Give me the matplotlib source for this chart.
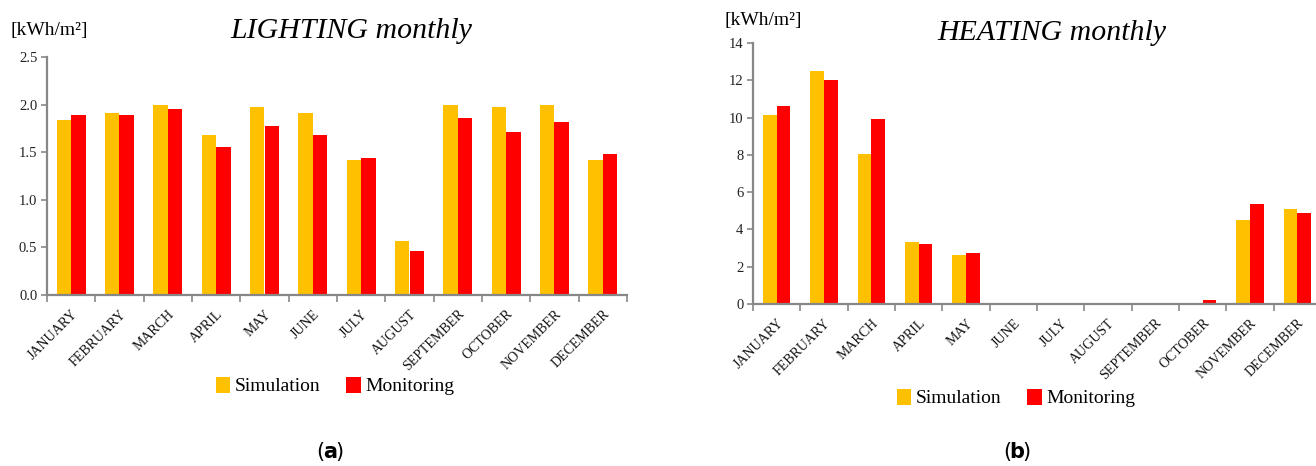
import matplotlib
matplotlib.use("Agg")
import matplotlib.pyplot as plt
import numpy as np
from matplotlib.patches import Patch

months = ["JANUARY", "FEBRUARY", "MARCH", "APRIL", "MAY", "JUNE", "JULY",
          "AUGUST", "SEPTEMBER", "OCTOBER", "NOVEMBER", "DECEMBER"]
lighting_sim = [1.84, 1.91, 2.00, 1.68, 1.98, 1.91, 1.42, 0.57, 2.00, 1.98, 2.00, 1.42]
lighting_mon = [1.89, 1.89, 1.95, 1.55, 1.77, 1.68, 1.44, 0.46, 1.86, 1.71, 1.82, 1.48]
heating_sim = [10.12, 12.50, 8.05, 3.31, 2.63, 0, 0, 0, 0, 0, 4.50, 5.10]
heating_mon = [10.62, 12.02, 9.94, 3.22, 2.72, 0, 0, 0, 0, 0.23, 5.38, 4.88]
lighting_yticks = [0.0, 0.5, 1.0, 1.5, 2.0, 2.5]
heating_yticks = [0, 2, 4, 6, 8, 10, 12, 14]
series_names = ["Simulation", "Monitoring"]

C_SIM = "#FFC000"
C_MON = "#FF0000"
GRAY = "#878787"
SERIF = "Liberation Serif"

W, H = 1316, 466
fig = plt.figure(figsize=(W / 100, H / 100), dpi=100)


def box(x0, y0, x1, y1):
    return [x0 / W, 1 - y1 / H, (x1 - x0) / W, (y1 - y0) / H]


def draw(ax, sim, mon, yticks, fmt, bw):
    x = np.arange(len(months))
    ax.bar(x - bw / 2, sim, width=bw, color=C_SIM, edgecolor="none", zorder=2)
    ax.bar(x + bw / 2, mon, width=bw, color=C_MON, edgecolor="none", zorder=2)
    ax.set_xlim(-0.5, len(months) - 0.5)
    ax.set_ylim(yticks[0], yticks[-1])
    ax.set_yticks(yticks)
    ax.set_yticklabels([fmt.format(v) for v in yticks], fontfamily=SERIF,
                       fontsize=10.5, color="#222222")
    ax.set_xticks(np.arange(len(months) + 1) - 0.5)
    ax.set_xticklabels([])
    ax.set_xticks(x, minor=True)
    ax.set_xticklabels(months, minor=True, rotation=45, ha="right",
                       rotation_mode="anchor", fontfamily=SERIF, fontsize=10,
                       color="#111111")
    ax.tick_params(axis="x", which="major", direction="out", length=5,
                   width=1.2, color=GRAY)
    ax.tick_params(axis="x", which="minor", length=0, pad=9)
    ax.tick_params(axis="y", direction="out", length=4, width=1.2,
                   color=GRAY, pad=3)
    for s in ("top", "right"):
        ax.spines[s].set_visible(False)
    for s in ("left", "bottom"):
        ax.spines[s].set_color(GRAY)
        ax.spines[s].set_linewidth(1.6)


ax1 = fig.add_axes(box(47, 57, 627, 295))
draw(ax1, lighting_sim, lighting_mon, lighting_yticks, "{:.1f}", 0.3)
ax2 = fig.add_axes(box(753, 43, 1321, 304))
draw(ax2, heating_sim, heating_mon, heating_yticks, "{:.0f}", 0.29)

# titles and units
fig.text(351 / W, 1 - 31 / H, "LIGHTING monthly", fontfamily=SERIF,
         style="italic", fontsize=21.5, ha="center", va="center")
fig.text(1052 / W, 1 - 33 / H, "HEATING monthly", fontfamily=SERIF,
         style="italic", fontsize=21.5, ha="center", va="center")
fig.text(10 / W, 1 - 31 / H, "[kWh/m²]", fontfamily=SERIF, fontsize=14,
         ha="left", va="center")
fig.text(725 / W, 1 - 20 / H, "[kWh/m²]", fontfamily=SERIF, fontsize=14,
         ha="left", va="center")

# legends
handles = [Patch(facecolor=C_SIM, edgecolor="none"),
           Patch(facecolor=C_MON, edgecolor="none")]
for cx, cy in ((335, 386), (1016, 398)):
    fig.legend(handles, series_names, loc="center", bbox_to_anchor=(cx / W, 1 - cy / H),
               ncol=2, frameon=False, handlelength=0.75, handleheight=0.9,
               handletextpad=0.25, columnspacing=1.3,
               prop={"family": SERIF, "size": 14})

# panel labels
for cx, lab in ((330, "a"), (1017, "b")):
    y = 1 - 452 / H
    fig.text(cx / W, y, lab, fontfamily="DejaVu Sans", fontweight="bold",
             fontsize=15, ha="center", va="center")
    fig.text((cx - 5.5) / W, y, "(", fontfamily="DejaVu Sans", fontsize=15,
             ha="right", va="center")
    fig.text((cx + 5.5) / W, y, ")", fontfamily="DejaVu Sans", fontsize=15,
             ha="left", va="center")

fig.savefig("out.png", dpi=100, facecolor="white")
